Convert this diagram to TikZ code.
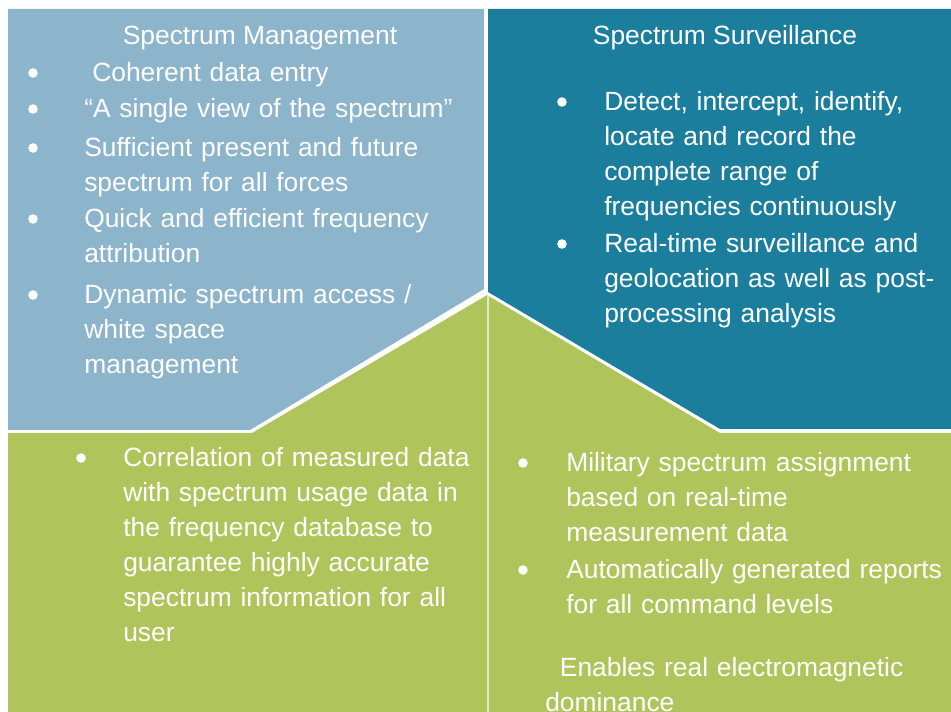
\documentclass[tikz,border=0pt]{standalone}
\usepackage{fontspec}
\setmainfont{Liberation Sans}
\definecolor{mgmtblue}{RGB}{140,180,202}
\definecolor{survteal}{RGB}{27,126,157}
\definecolor{fusegreen}{RGB}{176,196,92}

\begin{document}
\begin{tikzpicture}[x=0.75pt, y=-0.75pt,
	txt/.style={text=white, font=\fontsize{19.8}{26.25}\selectfont, inner sep=0pt},
	itembox/.style={txt, anchor=base west, text width=300pt, align=left},
	title/.style={txt, anchor=base}]
	\useasboundingbox (0,0) rectangle (951,712);
	% panels
	\fill [mgmtblue] (8,9) -- (484,9) -- (484,289) -- (250,430) -- (8,430) -- cycle;
	\fill [survteal] (488,9) -- (951,9) -- (951,429) -- (720,429) -- (488,292) -- cycle;
	\fill [fusegreen] (8,433) -- (252,433) -- (487.3,295) -- (487.3,712) -- (8,712) -- cycle;
	\fill [fusegreen] (488.5,296) -- (720,433) -- (951,433) -- (951,712) -- (488.5,712) -- cycle;

	% titles
	\node [title] (mgmt) at (260,45) {Spectrum Management};
	\node [title] (surv) at (725,45) {Spectrum Surveillance};

	% management items
	\node [itembox] (mg1) at (92,82) {Coherent data entry};
	\node [itembox] (mg2) at (84,118) {“A single view of the spectrum”};
	\node [itembox] (mg3) at (84,157) {Sufficient present and future\\spectrum for all forces};
	\node [itembox] (mg4) at (84,228) {Quick and efficient frequency\\attribution};
	\node [itembox] (mg5) at (84,304) {Dynamic spectrum access /\\white space\\management};

	% surveillance items
	\node [itembox] (sv1) at (604,111) {Detect, intercept, identify,\\locate and record the\\complete range of\\frequencies continuously};
	\node [itembox] (sv2) at (604,253) {Real-time surveillance and\\geolocation as well as post-\\processing analysis};

	% lower items
	\node [itembox] (lo1) at (123,467) {Correlation of measured data\\with spectrum usage data in\\the frequency database to\\guarantee highly accurate\\spectrum information for all\\user};
	\node [itembox] (lo2) at (566,472) {Military spectrum assignment\\based on real-time\\measurement data};
	\node [itembox] (lo3) at (566,579) {Automatically generated reports\\for all command levels};
	\node [itembox] (lo4) at (545,677) {\hspace*{11pt}Enables real electromagnetic\\dominance};

	% bullets
	\foreach \item/\gap in {mg1/59, mg2/51, mg3/51, mg4/51, mg5/51, sv1/42, sv2/42, lo1/42, lo2/43, lo3/43}{%
		\fill [white] ([shift={(-\gap,-9)}] \item.base west) circle (4.8);
	}
\end{tikzpicture}
\end{document}
